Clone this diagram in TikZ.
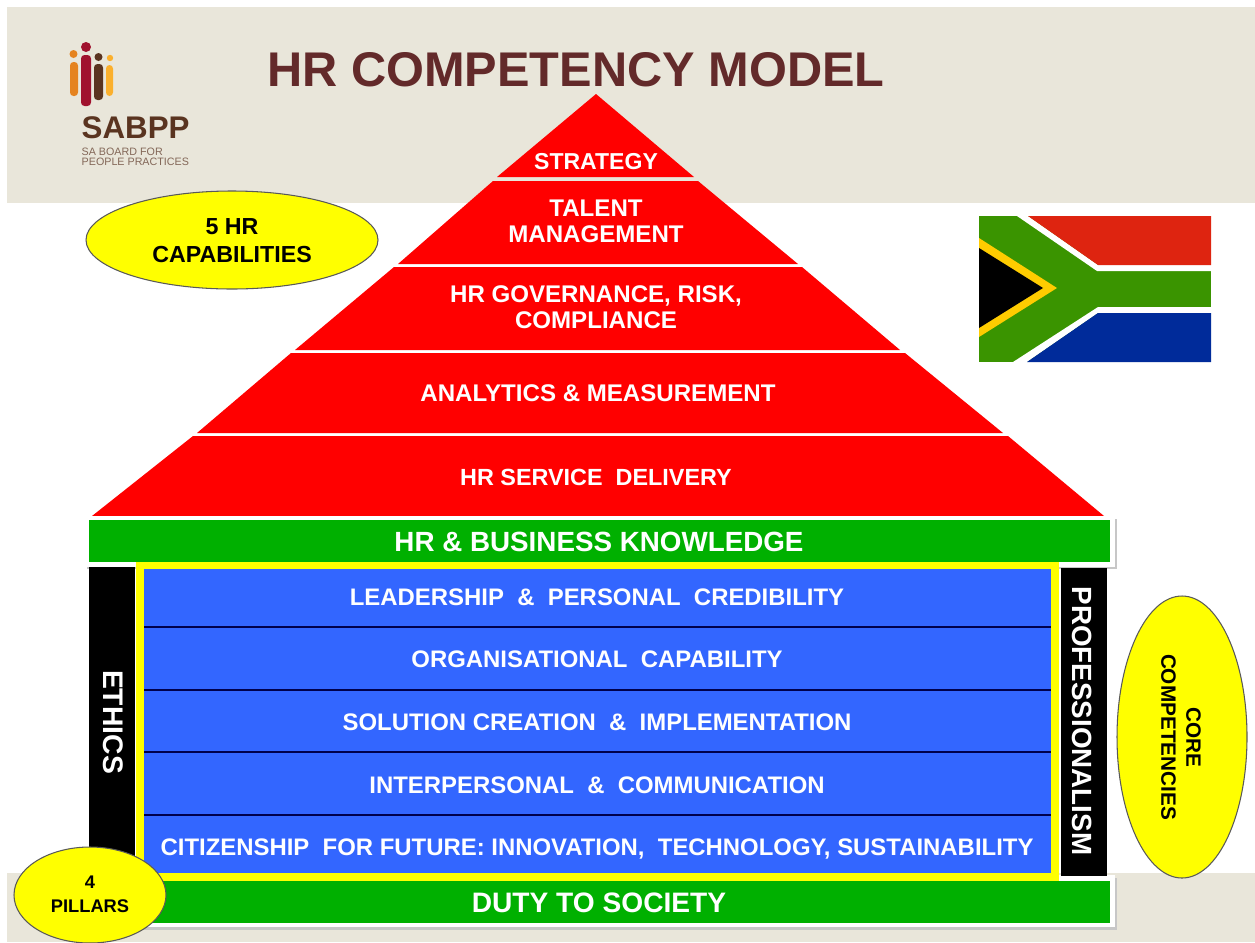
\documentclass[tikz,border=0pt]{standalone}
\usepackage{fontspec}
\usepackage{xcolor}
\setmainfont{Liberation Sans}
\definecolor{bandgray}{HTML}{E9E6DA}
\definecolor{titlebrown}{HTML}{632A2A}
\definecolor{barblue}{HTML}{3366FF}
\definecolor{bargreen}{HTML}{00B000}
\definecolor{ovalyellow}{HTML}{FFFF00}
\definecolor{frameyellow}{HTML}{FFFF00}
\definecolor{flagred}{HTML}{DE2410}
\definecolor{flaggreen}{HTML}{3A9400}
\definecolor{flagblue}{HTML}{002B9A}
\definecolor{flaggold}{HTML}{FFCC00}
\definecolor{logobrown}{HTML}{5A3420}
\definecolor{logored}{HTML}{A0122E}
\definecolor{logoorange}{HTML}{E5831F}
\definecolor{logogold}{HTML}{FBB02D}
\tikzset{
  whitetext/.style={text=white,font=\bfseries\fontsize{6.85}{7.4}\selectfont,align=center,inner sep=0pt},
  bluetext/.style={text=white,font=\bfseries\fontsize{6.8}{7.4}\selectfont,align=center,inner sep=0pt},
  blacktext/.style={text=black,font=\bfseries\fontsize{6.6}{8}\selectfont,align=center,inner sep=0pt},
  oval/.style={fill=ovalyellow,draw=black!65,line width=0.3pt},
  rowline/.style={black!70!blue,line width=0.3pt},
}
\begin{document}
\begin{tikzpicture}[x=0.01cm,y=-0.01cm]
  \useasboundingbox (0,0) rectangle (1255,942);
  % bands
  \fill[bandgray] (7,7) rectangle (1255,203);
  \fill[bandgray] (7,873) rectangle (1255,942);

  % logo
  \fill[logoorange,rounded corners=1pt] (70,62) rectangle (78,96);
  \fill[logoorange] (73.5,54) circle (4);
  \fill[logored,rounded corners=1pt] (81,55) rectangle (91,106);
  \fill[logored] (86,47) circle (5);
  \fill[logobrown,rounded corners=1pt] (94,64) rectangle (103,100);
  \fill[logobrown] (98.5,57) circle (4);
  \fill[logogold,rounded corners=1pt] (106,65) rectangle (113,96);
  \fill[logogold] (110,58) circle (3.2);
  \node[anchor=west,inner sep=0pt,text=logobrown,font=\bfseries\fontsize{8.9}{8.9}\selectfont] (sabpp) at (81,128) {SABPP};
  \node[anchor=west,inner sep=0pt,text=logobrown!75,font=\fontsize{3.05}{3}\selectfont] (board) at (81,151.5) {SA BOARD FOR};
  \node[anchor=west,inner sep=0pt,text=logobrown!75,font=\fontsize{3.05}{3}\selectfont] (people) at (81,162) {PEOPLE PRACTICES};

  \node[text=titlebrown,inner sep=0pt,font=\bfseries\fontsize{13.85}{14}\selectfont] (title) at (576,70) {HR COMPETENCY MODEL};

  % flag
  \fill[flaggreen] (979,216) rectangle (1211,362);
  \fill[white] (1017,216) -- (1097,271) -- (1211,271) -- (1211,265) -- (1098,265) -- (1028,216) -- cycle;
  \fill[white] (1013,362) -- (1098,307) -- (1211,307) -- (1211,313) -- (1098,313) -- (1027,362) -- cycle;
  \fill[flagred] (1028,216) -- (1211,216) -- (1211,265) -- (1098,265) -- cycle;
  \fill[flagblue] (1027,362) -- (1211,362) -- (1211,313) -- (1098,313) -- cycle;
  \fill[flaggold] (979,238) -- (1057,288) -- (979,337) -- cycle;
  \fill[black] (979,248) -- (1043,288) -- (979,328) -- cycle;

  % pyramid
  \fill[red] (596,94) -- (694,177) -- (497,177) -- cycle;
  \fill[red] (493,181) -- (698,181) -- (798,264) -- (398,264) -- cycle;
  \fill[red] (394,267) -- (802,267) -- (900,350) -- (295,350) -- cycle;
  \fill[red] (291,353) -- (905,353) -- (1003,433) -- (197,433) -- cycle;
  \fill[red] (193,436) -- (1008,436) -- (1104,516) -- (92,516) -- cycle;
  \node[whitetext,font=\bfseries\fontsize{6.55}{7.4}\selectfont] (strategy) at (596,162) {STRATEGY};
  \node[whitetext] (talent) at (596,221) {TALENT\\MANAGEMENT};
  \node[whitetext] (governance) at (596,307) {HR GOVERNANCE, RISK,\\COMPLIANCE};
  \node[whitetext] (analytics) at (598,393) {ANALYTICS \& MEASUREMENT};
  \node[whitetext,font=\bfseries\fontsize{6.65}{7.4}\selectfont] (service) at (596,477) {HR SERVICE~~DELIVERY};

  % top and bottom bars
  \fill[black!22] (87,519) rectangle (1117,569);
  \fill[white] (85,516) rectangle (1115,566.5);
  \fill[bargreen] (89,520) rectangle (1110,562);
  \fill[black!22] (87,878) rectangle (1117,930);
  \fill[white] (85,875) rectangle (1115,927);
  \fill[bargreen] (89,881) rectangle (1110,923);
  \node[whitetext,font=\bfseries\fontsize{7.9}{8}\selectfont] (knowledge) at (599,542) {HR \& BUSINESS KNOWLEDGE};
  \node[whitetext,font=\bfseries\fontsize{8}{8}\selectfont] (duty) at (599,903) {DUTY TO SOCIETY};

  % pillars
  \fill[black] (89,567) rectangle (135,860);
  \fill[black] (1061,568) rectangle (1107,876);
  \node[whitetext,rotate=-90,font=\bfseries\fontsize{8.05}{8}\selectfont] (ethics) at (113,722) {ETHICS};
  \node[whitetext,rotate=-90,font=\bfseries\fontsize{7.9}{8}\selectfont] (professionalism) at (1082,721) {PROFESSIONALISM};

  % blue block
  \draw[fill=barblue,draw=frameyellow,line width=2.2pt] (140,565.5) rectangle (1055,877);
  \draw[rowline] (144,627) -- (1051,627);
  \draw[rowline] (144,690) -- (1051,690);
  \draw[rowline] (144,752) -- (1051,752);
  \draw[rowline] (144,815) -- (1051,815);
  \node[bluetext] (leadership) at (597,597) {LEADERSHIP~~\&~~PERSONAL~~CREDIBILITY};
  \node[bluetext] (organisational) at (597,659) {ORGANISATIONAL~~CAPABILITY};
  \node[bluetext] (solution) at (597,722) {SOLUTION CREATION~~\&~~IMPLEMENTATION};
  \node[bluetext] (interpersonal) at (597,785) {INTERPERSONAL~~\&~~COMMUNICATION};
  \node[bluetext] (citizenship) at (597,848.5) {CITIZENSHIP~~FOR FUTURE: INNOVATION,~~TECHNOLOGY, SUSTAINABILITY};

  % ovals
  \draw[oval] (232,240) ellipse (146 and 49);
  \draw[oval] (90,895) ellipse (76 and 48);
  \draw[oval] (1182,737) ellipse (65 and 141);
  \node[blacktext] (capabilities) at (232,241) {5 HR\\CAPABILITIES};
  \node[blacktext,font=\bfseries\fontsize{5.2}{6.8}\selectfont] (fourpillars) at (90,894) {4\\PILLARS};
  \node[blacktext,rotate=-90,font=\bfseries\fontsize{5.9}{7.1}\selectfont] (core) at (1181,737) {CORE\\COMPETENCIES};
\end{tikzpicture}
\end{document}
